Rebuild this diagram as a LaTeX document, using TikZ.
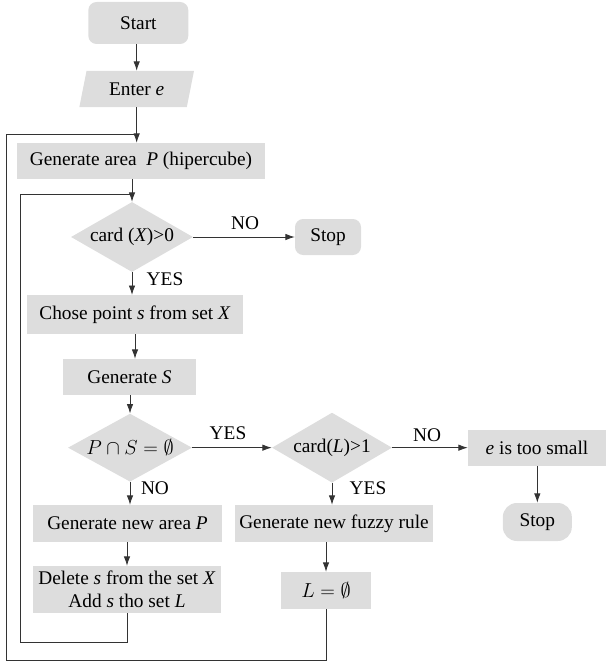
\documentclass[tikz,border=0pt]{standalone}
\usepackage{fontspec}
\setmainfont{Liberation Serif}
\definecolor{fcgray}{RGB}{221,221,221}
\definecolor{fcline}{RGB}{51,51,51}
\usetikzlibrary{arrows.meta,positioning,shapes.geometric}
\newcommand{\bigmath}[1]{{\fontsize{18}{22}\selectfont$#1$}}

\begin{document}
\begin{tikzpicture}[
    font=\fontsize{16.5}{20}\selectfont,
    procbox/.style={rectangle, fill=fcgray, inner sep=0pt, align=center},
    termbox/.style={rectangle, rounded corners=7pt, fill=fcgray, inner sep=0pt},
    iobox/.style={trapezium, trapezium left angle=73, trapezium right angle=107,
      trapezium stretches=true, fill=fcgray, inner sep=0pt},
    decbox/.style={diamond, aspect=1.75, fill=fcgray, inner sep=0pt},
    arr/.style={-{Latex[length=8pt, width=5.5pt]}, line width=0.7pt, fcline},
    loopline/.style={line width=0.7pt, fcline},
    lbl/.style={inner sep=0pt}
  ]
    \useasboundingbox (0,0) rectangle (18.18,-19.89);

    % Main column
    \node[termbox, minimum width=3.0cm, minimum height=1.26cm] (start) at (4.15,-0.69) {Start};
    \node[iobox, minimum width=3.45cm, minimum height=1.08cm] (enter) at (4.10,-2.67) {Enter \textit{e}};
    \node[procbox, minimum width=7.44cm, minimum height=1.08cm] (genarea) at (4.23,-4.83) {Generate area\ \ \textit{P} (hipercube)};
    \node[decbox, minimum width=3.66cm, minimum height=2.1cm] (cardx) at (3.96,-7.11) {card (\textit{X})>0};
    \node[termbox, minimum width=1.98cm, minimum height=1.08cm] (stop1) at (9.84,-7.11) {Stop};
    \node[procbox, minimum width=6.48cm, minimum height=1.17cm] (chose) at (4.05,-9.44) {Chose point \textit{s} from set \textit{X}};
    \node[procbox, minimum width=3.99cm, minimum height=1.08cm] (gens) at (3.885,-11.31) {Generate \textit{S}};
    \node[decbox, inner xsep=-6pt, minimum width=3.72cm, minimum height=2.04cm] (psdiam) at (3.9,-13.43) {\bigmath{P\cap S=\emptyset}};
    \node[procbox, minimum width=5.67cm, minimum height=1.11cm] (newarea) at (3.825,-15.705) {Generate new area \textit{P}};
    \node[procbox, minimum width=5.64cm, minimum height=1.41cm] (delete) at (3.81,-17.685) {Delete \textit{s} from the set \textit{X}\\Add \textit{s} tho set \textit{L}};

    % Middle and right column
    \node[decbox, minimum width=3.6cm, minimum height=2.1cm] (cardl) at (9.96,-13.43) {card(\textit{L})>1};
    \node[procbox, minimum width=5.94cm, minimum height=1.11cm] (fuzzy) at (10.02,-15.705) {Generate new fuzzy rule};
    \node[procbox, minimum width=2.7cm, minimum height=1.11cm] (lempty) at (9.78,-17.715) {\bigmath{L=\emptyset}};
    \node[procbox, minimum width=4.14cm, minimum height=1.08cm] (small) at (16.11,-13.43) {\textit{e} is too small};
    \node[termbox, rounded corners=12pt, minimum width=2.07cm, minimum height=1.14cm] (stop2) at (16.12,-15.66) {Stop};

    % Arrows
    \draw[arr] (start.south -| enter.north) -- (enter.north);
    \draw[arr] (enter.south) -- (enter.south |- genarea.north);
    \draw[arr] (genarea.south -| cardx.north) -- (cardx.north);
    \draw[arr] (cardx.east) -- (stop1.west);
    \draw[arr] (cardx.south) -- (cardx.south |- chose.north);
    \draw[arr] (chose.south) -- (chose.south |- gens.north);
    \draw[arr] (gens.south -| psdiam.north) -- (psdiam.north);
    \draw[arr] (psdiam.east) -- (cardl.west);
    \draw[arr] (cardl.east) -- (small.west);
    \draw[arr] (psdiam.south) -- (psdiam.south |- newarea.north);
    \draw[arr] (newarea.south -| delete.north) -- (delete.north);
    \draw[arr] (cardl.south) -- (cardl.south |- fuzzy.north);
    \draw[arr] (fuzzy.south -| lempty.north) -- (lempty.north);
    \draw[arr] (small.south -| stop2.north) -- (stop2.north);

    % Loops back
    \coordinate (outerBL) at (0.18,-19.8);
    \coordinate (outerTR) at (4.10,-4.02);
    \draw[loopline] (lempty.south) |- (outerBL) |- (outerTR);
    \coordinate (innerBL) at (0.6,-19.26);
    \coordinate (innerTR) at (3.96,-5.82);
    \draw[loopline] (delete.south) |- (innerBL) |- (innerTR);

    % Labels
    \node[lbl] (no1) at (7.35,-6.69) {NO};
    \node[lbl] (yes1) at (4.95,-8.37) {YES};
    \node[lbl] (yes2) at (6.84,-12.99) {YES};
    \node[lbl] (no2) at (4.65,-14.64) {NO};
    \node[lbl] (no3) at (12.81,-13.05) {NO};
    \node[lbl] (yes3) at (11.04,-14.64) {YES};
  \end{tikzpicture}
\end{document}
